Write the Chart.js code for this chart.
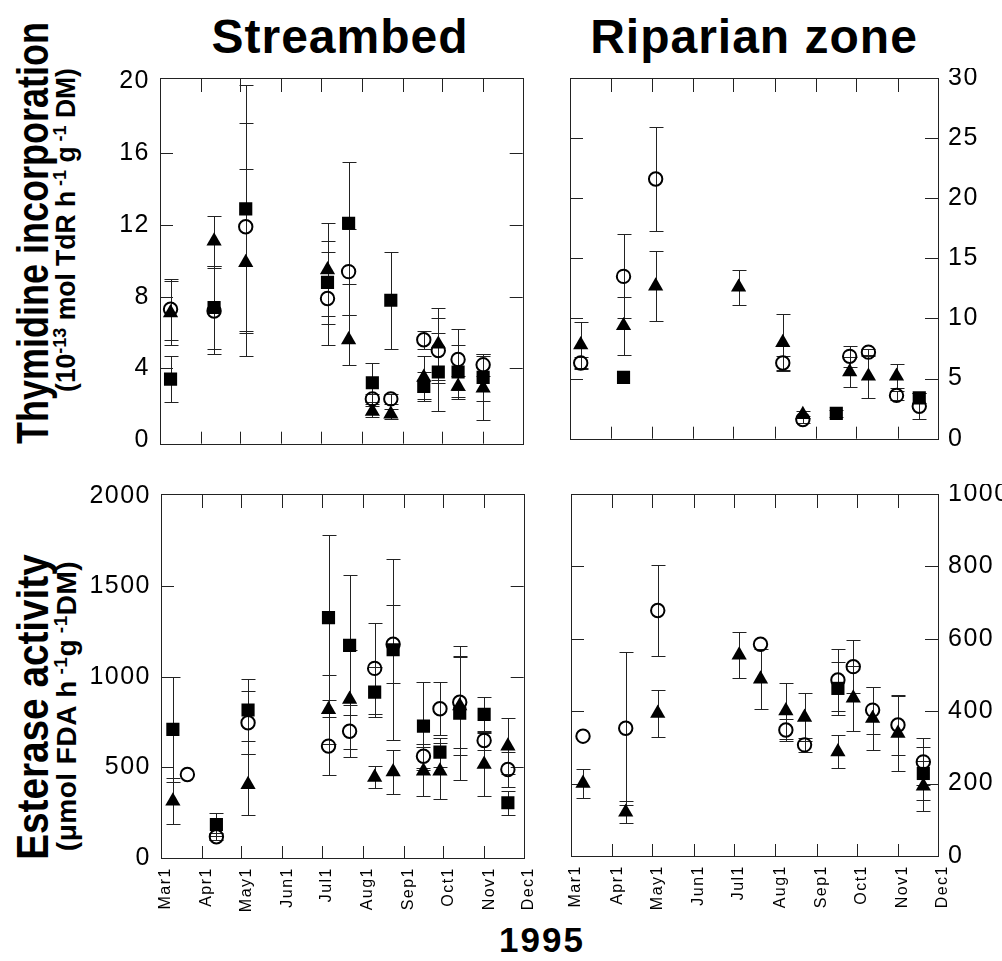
<!DOCTYPE html>
<html><head><meta charset="utf-8">
<script src="https://cdn.jsdelivr.net/npm/chart.js@4.4.1/dist/chart.umd.min.js"></script>
<style>
body{margin:0;background:#fff;width:1002px;height:961px;position:relative;overflow:hidden;font-family:"Liberation Sans",Arial,sans-serif;}
canvas{position:absolute;}
.t{position:absolute;white-space:nowrap;color:#000;font-weight:bold;line-height:1;}
.r{transform-origin:center center;}
sup{font-size:0.68em;vertical-align:0.45em;line-height:0;}
</style></head><body>
<div class="t" style="left:340px;top:13px;font-size:48px;letter-spacing:1px;transform:translateX(-50%);">Streambed</div>
<div class="t" style="left:754px;top:13px;font-size:48px;letter-spacing:1px;transform:translateX(-50%);">Riparian zone</div>
<div class="t" style="left:542px;top:922px;font-size:35px;letter-spacing:2px;transform:translateX(-50%);">1995</div>
<div class="t r" style="left:32px;top:233px;font-size:45px;transform:translate(-50%,-50%) rotate(-90deg) scaleX(0.8);">Thymidine incorporation</div>
<div class="t r" style="left:66px;top:230px;font-size:27px;transform:translate(-50%,-50%) rotate(-90deg) scaleX(0.98);">(10<sup>-13</sup> mol TdR h<sup>&nbsp;-1</sup> g<sup>&nbsp;-1</sup> DM)</div>
<div class="t r" style="left:32px;top:707px;font-size:45px;transform:translate(-50%,-50%) rotate(-90deg) scaleX(0.86);">Esterase activity</div>
<div class="t r" style="left:67px;top:706px;font-size:28px;letter-spacing:0.5px;transform:translate(-50%,-50%) rotate(-90deg);">(μmol FDA h<sup>&nbsp;-1</sup>g<sup>&nbsp;-1</sup>DM)</div>
<canvas id="tl" width="452" height="385" style="left:80px;top:68px"></canvas>
<canvas id="tr" width="440" height="380" style="left:560px;top:68px"></canvas>
<canvas id="bl" width="463" height="430" style="left:70px;top:484px"></canvas>
<canvas id="br" width="441" height="430" style="left:561px;top:484px"></canvas>
<script>
// ---- axes ----
const monthLabels = ['Mar1','Apr1','May1','Jun1','Jul1','Aug1','Sep1','Oct1','Nov1','Dec1'];
const monthDays = [0,31,61,92,122,153,184,214,245,275]; // days since 1 March 1995
const sbThyTicks = [0,4,8,12,16,20];
const rpThyTicks = [0,5,10,15,20,25,30];
const sbEstTicks = [0,500,1000,1500,2000];
const rpEstTicks = [0,200,400,600,800,1000];

// ---- Streambed, thymidine incorporation ----
const sbThyDays = [8,41,65,127,143,161,175,200,211,226,245];
const sbThySquare = [3.4,7.4,12.9,8.8,12.1,3.2,7.8,3.0,3.8,3.8,3.5];
const sbThySquareErr = [1.3,2.3,6.9,2.3,3.4,1.1,2.7,0.8,2.2,1.5,1.3];
const sbThyCircle = [7.3,7.2,11.9,7.9,9.4,2.3,2.3,5.6,5.0,4.5,4.2];
const sbThyCircleErr = [1.7,2.4,5.8,2.6,2.4,0.3,0.3,0.5,1.8,1.7,0.6];
const sbThyTriangle = [7.1,11.1,9.9,9.5,5.6,1.6,1.45,3.5,5.35,3.0,2.9];
const sbThyTriangleErr = [1.8,1.4,5.2,2.6,1.4,0.3,0.3,1.2,2.0,0.6,1.8];

// ---- Riparian zone, thymidine incorporation ----
const rpThyDays = [8,40,64,126,159,174,199,209,223,244,261];
const rpThySquare = [null,5.1,null,null,null,null,2.1,null,null,null,3.4];
const rpThySquareErr = [0,0,0,0,0,0,0.3,0,0,0,0.4];
const rpThyCircle = [6.3,13.5,21.6,null,6.3,1.6,null,6.85,7.2,3.6,2.7];
const rpThyCircleErr = [0.5,3.5,4.35,0,0.6,0.3,0,0.9,0.3,0.4,1.1];
const rpThyTriangle = [7.8,9.4,12.7,12.6,8.0,2.0,null,5.55,5.2,5.2,null];
const rpThyTriangleErr = [1.9,2.4,2.9,1.45,2.4,0.3,0,1.25,1.8,1.0,0];

// ---- Streambed, esterase activity ----
const sbEstDays = [9,42,66,127,143,162,176,199,211.5,226.5,245,263];
const sbEstCircleDays = [20,42,66,127,143,162,176,199,211.5,226.5,245,263];
const sbEstSquare = [710,185,817,1327,1174,916,1150,728,585,800,793,305];
const sbEstSquareErr = [290,65,173,455,387,136,500,243,80,370,95,65];
const sbEstCircle = [461,117,747,618,700,1047,1180,562,824,860,649,489];
const sbEstCircleErr = [0,20,175,162,143,252,215,65,147,255,50,96];
const sbEstTriangle = [314,null,406,820,876,446,476,480,480,840,517,618];
const sbEstTriangleErr = [125,0,166,190,273,60,120,135,153,270,172,153];

// ---- Riparian zone, esterase activity ----
const rpEstDays = [9,41,65,126,142,161,175,200,211.5,226,245,264];
const rpEstSquare = [null,null,null,null,null,null,null,463,null,null,null,228];
const rpEstSquareErr = [0,0,0,0,0,0,0,74,0,0,0,74];
const rpEstCircle = [331,353,678,null,585,348,307,486,523,403,362,260];
const rpEstCircleErr = [0,211,125,0,0,30,20,86,74,65,83,65];
const rpEstTriangle = [201,121,394,555,489,401,383,288,436,380,339,193];
const rpEstTriangleErr = [40,30,65,64,83,78,66,45,90,88,103,69];

const FONT = '"Liberation Sans", Arial, sans-serif';
const styles = {
  square:   {pointStyle:'rect', pointRadius:9.3, backgroundColor:'#000', borderColor:'#000', borderWidth:0},
  circle:   {pointStyle:'circle', pointRadius:6.7, backgroundColor:'rgba(0,0,0,0)', borderColor:'#000', borderWidth:2},
  triangle: {pointStyle:'triangle', pointRadius:8.8, backgroundColor:'#000', borderColor:'#000', borderWidth:0}
};

const errorBars = {
  id:'errorBars',
  beforeDatasetsDraw(chart){
    const ctx = chart.ctx, xs = chart.scales.x, ys = chart.scales.y;
    ctx.save(); ctx.strokeStyle = '#222'; ctx.lineWidth = 1;
    chart.data.datasets.forEach(ds => ds.data.forEach(p => {
      if (!p.e) return;
      const px = Math.round(xs.getPixelForValue(p.x)) + 0.5;
      const top = Math.round(ys.getPixelForValue(p.y + p.e)) + 0.5;
      const bot = Math.round(ys.getPixelForValue(p.y - p.e)) + 0.5;
      ctx.beginPath();
      ctx.moveTo(px, top); ctx.lineTo(px, bot);
      ctx.moveTo(px - 7, top); ctx.lineTo(px + 7, top);
      ctx.moveTo(px - 7, bot); ctx.lineTo(px + 7, bot);
      ctx.stroke();
    }));
    ctx.restore();
  }
};

const spacing = {
  id:'spacing',
  beforeDraw(chart){ chart.ctx.letterSpacing = '1.5px'; }
};

function framePlugin(yTicks){
  return {
    id:'frame',
    beforeDatasetsDraw(chart){
      const ctx = chart.ctx, a = chart.chartArea, xs = chart.scales.x, ys = chart.scales.y;
      ctx.save(); ctx.strokeStyle = '#222'; ctx.lineWidth = 1;
      ctx.strokeRect(Math.round(a.left)+0.5, Math.round(a.top)+0.5, Math.round(a.right-a.left), Math.round(a.bottom-a.top));
      ctx.beginPath();
      monthDays.slice(1,-1).forEach(d => {
        const px = Math.round(xs.getPixelForValue(d)) + 0.5;
        ctx.moveTo(px, a.top); ctx.lineTo(px, a.top + 14);
        ctx.moveTo(px, a.bottom); ctx.lineTo(px, a.bottom - 12);
      });
      yTicks.slice(1,-1).forEach(v => {
        const py = Math.round(ys.getPixelForValue(v)) + 0.5;
        ctx.moveTo(a.left, py); ctx.lineTo(a.left + 13, py);
        ctx.moveTo(a.right, py); ctx.lineTo(a.right - 13, py);
      });
      ctx.stroke();
      ctx.restore();
    }
  };
}

function series(kind, days, vals, errs){
  const data = [];
  days.forEach((d,i) => { if (vals[i] != null) data.push({x:d, y:vals[i], e:errs[i]}); });
  return Object.assign({label:kind, data:data}, styles[kind]);
}

function makePanel(id, o){
  new Chart(document.getElementById(id), {
    type:'scatter',
    data:{datasets:o.datasets},
    options:{
      responsive:false, animation:false, devicePixelRatio:1, events:[],
      layout:{padding:o.padding},
      plugins:{legend:{display:false}, tooltip:{enabled:false}},
      scales:{
        x:{type:'linear', min:0, max:275, display:o.showX,
           afterBuildTicks:s => { s.ticks = monthDays.map(v => ({value:v})); },
           afterFit:s => { if (o.xHeight) s.height = o.xHeight; s.paddingLeft = 0; s.paddingRight = 0; },
           grid:{display:false, drawTicks:false}, border:{display:false},
           ticks:{autoSkip:false, minRotation:90, maxRotation:90, padding:9, labelOffset:5, color:'#000',
                  font:{family:FONT, size:16}, callback:v => monthLabels[monthDays.indexOf(v)]}},
        y:{type:'linear', position:o.yPos, min:o.yMin, max:o.yMax,
           afterBuildTicks:s => { s.ticks = o.yTicks.map(v => ({value:v})); },
           afterFit:s => { s.width = o.yWidth; s.paddingTop = 0; s.paddingBottom = 0; },
           grid:{display:false, drawTicks:false}, border:{display:false},
           ticks:{padding:10, color:'#000', font:{family:FONT, size:25}, callback:v => String(v)}}
      }
    },
    plugins:[spacing, framePlugin(o.yTicks), errorBars]
  });
}

makePanel('tl', {
  datasets:[series('square', sbThyDays, sbThySquare, sbThySquareErr),
            series('circle', sbThyDays, sbThyCircle, sbThyCircleErr),
            series('triangle', sbThyDays, sbThyTriangle, sbThyTriangleErr)],
  padding:{left:0, right:5, top:10, bottom:5}, showX:false,
  yPos:'left', yWidth:80, yMin:-0.2, yMax:20.2, yTicks:sbThyTicks
});
makePanel('tr', {
  datasets:[series('square', rpThyDays, rpThySquare, rpThySquareErr),
            series('circle', rpThyDays, rpThyCircle, rpThyCircleErr),
            series('triangle', rpThyDays, rpThyTriangle, rpThyTriangleErr)],
  padding:{left:10, right:0, top:10, bottom:5}, showX:false,
  yPos:'right', yWidth:62, yMin:0, yMax:30, yTicks:rpThyTicks
});
makePanel('bl', {
  datasets:[series('square', sbEstDays, sbEstSquare, sbEstSquareErr),
            series('circle', sbEstCircleDays, sbEstCircle, sbEstCircleErr),
            series('triangle', sbEstDays, sbEstTriangle, sbEstTriangleErr)],
  padding:{left:0, right:5, top:10, bottom:0}, showX:true, xHeight:56,
  yPos:'left', yWidth:91, yMin:0, yMax:2010, yTicks:sbEstTicks
});
makePanel('br', {
  datasets:[series('square', rpEstDays, rpEstSquare, rpEstSquareErr),
            series('circle', rpEstDays, rpEstCircle, rpEstCircleErr),
            series('triangle', rpEstDays, rpEstTriangle, rpEstTriangleErr)],
  padding:{left:10, right:0, top:10, bottom:0}, showX:true, xHeight:58,
  yPos:'right', yWidth:64, yMin:0, yMax:1000, yTicks:rpEstTicks
});
</script>
</body></html>
